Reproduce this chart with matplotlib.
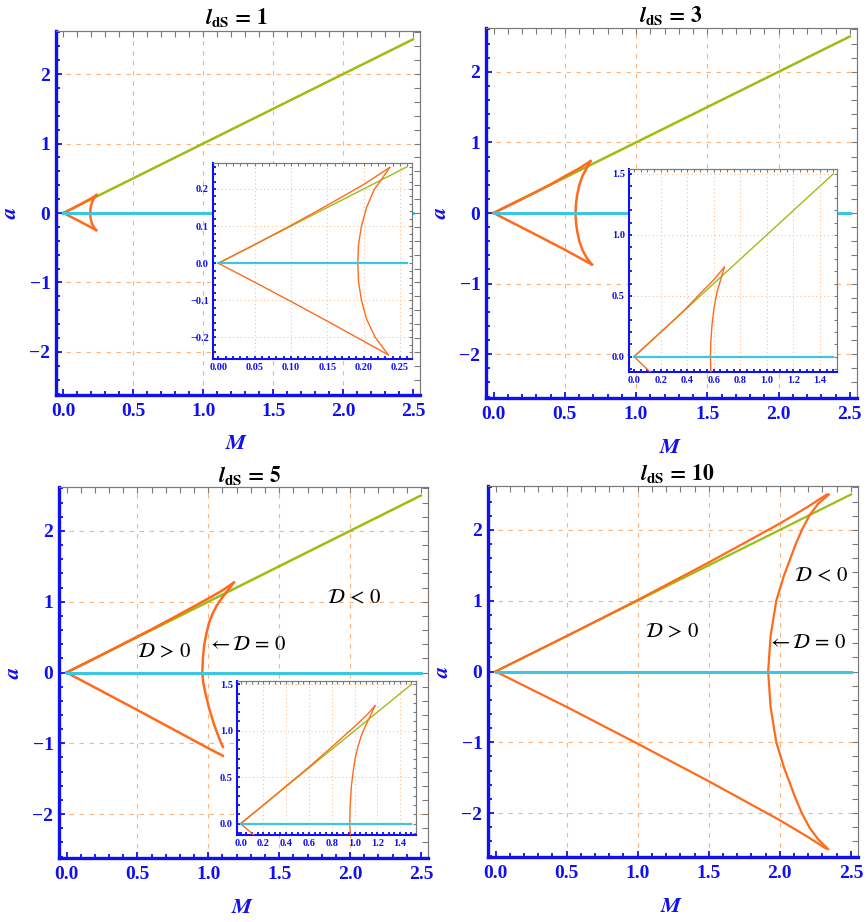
import matplotlib
matplotlib.use('Agg')
import matplotlib.pyplot as plt

plt.rcParams['mathtext.fontset'] = 'stix'
plt.rcParams['font.family'] = ['Liberation Serif', 'DejaVu Serif']

# ---------------- data ----------------
titles = ['1', '3', '5', '10']

# boundary a = M (green) and a = 0 (cyan) in the main panels
diag_M = [0.0, 2.5]
diag_a = [0.0, 2.5]
zero_M = [0.0, 2.5]
zero_a = [0.0, 0.0]

# insets: extent of the green / cyan lines
inset1_M = [0.0, 0.26]
inset23_M = [0.0, 1.5]

# D = 0 curve, l_dS = 1
l1_lower_M = [0.0, 0.05, 0.10, 0.15, 0.20, 0.234]
l1_lower_a = [0.0, -0.051, -0.103, -0.156, -0.21, -0.247]
l1_curve_M = [0.234, 0.216, 0.204, 0.197, 0.193, 0.192, 0.193, 0.197, 0.204, 0.215, 0.224, 0.236]
l1_curve_a = [-0.247, -0.20, -0.15, -0.10, -0.05, 0.0, 0.05, 0.10, 0.15, 0.20, 0.224, 0.258]
l1_upper_M = [0.236, 0.20, 0.15, 0.10, 0.05, 0.0]
l1_upper_a = [0.258, 0.212, 0.156, 0.102, 0.05, 0.0]

# l_dS = 3
l3_lower_M = [0.0, 0.10, 0.30, 0.50, 0.69]
l3_lower_a = [0.0, -0.104, -0.31, -0.52, -0.73]
l3_curve_M = [0.69, 0.655, 0.625, 0.602, 0.586, 0.578, 0.575, 0.578, 0.586, 0.602, 0.625, 0.66, 0.68]
l3_curve_a = [-0.73, -0.64, -0.53, -0.40, -0.25, -0.12, 0.0, 0.12, 0.25, 0.40, 0.53, 0.66, 0.735]
l3_upper_M = [0.68, 0.60, 0.50, 0.40, 0.30, 0.20, 0.10, 0.0]
l3_upper_a = [0.735, 0.63, 0.52, 0.405, 0.30, 0.20, 0.10, 0.0]

# l_dS = 5
l5_lower_M = [0.0, 0.50, 1.00, 1.103]
l5_lower_a = [0.0, -0.53, -1.07, -1.176]
l5_curve_M = [1.103, 1.075, 1.04, 1.005, 0.981, 0.965, 0.958, 0.962, 0.972, 0.987, 1.005, 1.028, 1.058, 1.095, 1.135, 1.18]
l5_curve_a = [-1.05, -0.92, -0.73, -0.50, -0.30, -0.15, 0.0, 0.20, 0.40, 0.55, 0.70, 0.82, 0.94, 1.05, 1.15, 1.27]
l5_upper_M = [1.18, 1.10, 1.00, 0.80, 0.60, 0.40, 0.20, 0.0]
l5_upper_a = [1.27, 1.16, 1.045, 0.825, 0.61, 0.405, 0.20, 0.0]

# l_dS = 10
l10_lower_M = [0.0, 0.50, 1.00, 1.50, 2.00, 2.20, 2.325]
l10_lower_a = [0.0, -0.50, -1.02, -1.55, -2.10, -2.34, -2.50]
l10_curve_M = [2.34, 2.27, 2.21, 2.155, 2.11, 2.03, 1.975, 1.935, 1.918,
               1.935, 1.975, 2.03, 2.11, 2.155, 2.21, 2.27, 2.345]
l10_curve_a = [-2.51, -2.37, -2.21, -2.00, -1.79, -1.36, -1.00, -0.50, 0.0,
               0.50, 1.00, 1.36, 1.79, 2.00, 2.21, 2.37, 2.50]
l10_upper_M = [2.33, 2.20, 2.00, 1.50, 1.00, 0.50, 0.0]
l10_upper_a = [2.50, 2.33, 2.09, 1.54, 1.01, 0.50, 0.0]

# annotations (panel index, M, a, text)
notes = [
    (2, 0.685, 0.28, r'$\mathcal{D}\,>\,0$'),
    (2, 1.27, 0.38, r'$\leftarrow\mathcal{D}\,=\,0$'),
    (2, 2.03, 1.04, r'$\mathcal{D}\,<\,0$'),
    (3, 1.24, 0.54, r'$\mathcal{D}\,>\,0$'),
    (3, 2.19, 0.40, r'$\leftarrow\mathcal{D}\,=\,0$'),
    (3, 2.29, 1.34, r'$\mathcal{D}\,<\,0$'),
]

# ticks
main_xticks = [0.0, 0.5, 1.0, 1.5, 2.0, 2.5]
main_xticklabels = ['0.0', '0.5', '1.0', '1.5', '2.0', '2.5']
main_yticks = [-2, -1, 0, 1, 2]
main_yticklabels = ['\u22122', '\u22121', '0', '1', '2']
main_xgrid = [0.5, 1.0, 1.5, 2.0]
main_ygrid = [-2, -1, 1, 2]

in1_xticks = [0.0, 0.05, 0.10, 0.15, 0.20, 0.25]
in1_xticklabels = ['0.00', '0.05', '0.10', '0.15', '0.20', '0.25']
in1_yticks = [-0.2, -0.1, 0.0, 0.1, 0.2]
in1_yticklabels = ['\u22120.2', '\u22120.1', '0.0', '0.1', '0.2']

in23_xticks = [0.0, 0.2, 0.4, 0.6, 0.8, 1.0, 1.2, 1.4]
in23_xticklabels = ['0.0', '0.2', '0.4', '0.6', '0.8', '1.0', '1.2', '1.4']
in23_yticks = [0.0, 0.5, 1.0, 1.5]
in23_yticklabels = ['0.0', '0.5', '1.0', '1.5']

# ---------------- style ----------------
GREEN = '#9DBD14'
ORANGE = '#FF6A1C'
CYAN = '#3CC6E2'
BLUE = '#1010F0'
GRAY = '#7A7A7A'
GRIDC = '#FDB47A'

def frange(a, b, step):
    out = []
    n = int(round((b - a) / step))
    for i in range(n + 1):
        out.append(round(a + i * step, 6))
    return out


def style(ax, xt, xtl, yt, ytl, xminor, yminor, fs, lw_spine, tick_len, pad):
    ax.set_xticks(xt)
    ax.set_xticklabels(xtl)
    ax.set_yticks(yt)
    ax.set_yticklabels(ytl)
    ax.set_xticks(xminor, minor=True)
    ax.set_yticks(yminor, minor=True)
    ax.tick_params(which='both', direction='in', color=BLUE, labelcolor=BLUE,
                   width=1.3, length=tick_len, pad=pad)
    ax.tick_params(which='minor', length=tick_len * 0.75)
    for lab in ax.get_xticklabels() + ax.get_yticklabels():
        lab.set_fontweight('bold')
        lab.set_fontsize(fs)
    for s in ['left', 'bottom']:
        ax.spines[s].set_color(BLUE)
        ax.spines[s].set_linewidth(lw_spine)
    for s in ['top', 'right']:
        ax.spines[s].set_color(GRAY)
        ax.spines[s].set_linewidth(0.8)
    secx = ax.secondary_xaxis('top')
    secx.set_xticks(xt)
    secx.set_xticks(xminor, minor=True)
    secx.tick_params(which='both', direction='in', color=GRAY, labeltop=False,
                     width=0.8, length=tick_len)
    secx.spines['top'].set_color(GRAY)
    secx.spines['top'].set_linewidth(0.8)
    secy = ax.secondary_yaxis('right')
    secy.set_yticks(yt)
    secy.set_yticks(yminor, minor=True)
    secy.tick_params(which='both', direction='in', color=GRAY, labelright=False,
                     width=0.8, length=tick_len)
    secy.spines['right'].set_color(GRAY)
    secy.spines['right'].set_linewidth(0.8)


fig = plt.figure(figsize=(8.68, 9.22), dpi=100)
W, H = 868.0, 922.0

def px_axes(left, top, right, bottom):
    return [left / W, 1 - bottom / H, (right - left) / W, (bottom - top) / H]

main_boxes = [(56, 31, 420, 395), (486, 28, 857, 398), (59, 487, 428, 858), (488, 486, 858, 857)]
title_pos = [(0.497, 1.036), (0.498, 1.035), (0.518, 1.03), (0.512, 1.033)]
curves = [
    (l1_lower_M, l1_lower_a, l1_curve_M, l1_curve_a, l1_upper_M, l1_upper_a),
    (l3_lower_M, l3_lower_a, l3_curve_M, l3_curve_a, l3_upper_M, l3_upper_a),
    (l5_lower_M, l5_lower_a, l5_curve_M, l5_curve_a, l5_upper_M, l5_upper_a),
    (l10_lower_M, l10_lower_a, l10_curve_M, l10_curve_a, l10_upper_M, l10_upper_a),
]

main_axes = []
for i in range(4):
    ax = fig.add_axes(px_axes(*main_boxes[i]))
    main_axes.append(ax)
    ax.set_xlim(-0.053, 2.55)
    ax.set_ylim(-2.62, 2.62)
    for g in main_xgrid:
        ax.axvline(g, color=GRIDC, lw=0.8, ls=(0, (4, 5)), zorder=0)
    for g in main_ygrid:
        ax.axhline(g, color=GRIDC, lw=0.8, ls=(0, (4, 5)), zorder=0)
    lw = 1.8 if i < 3 else 1.6
    ax.plot(diag_M, diag_a, color=GREEN, lw=lw, zorder=2)
    lM, la, cM, ca, uM, ua = curves[i]
    for xs, ys in [(lM, la), (cM, ca), (uM, ua)]:
        ax.plot(xs, ys, color=ORANGE, lw=lw, zorder=3, solid_joinstyle='round')
    ax.plot(zero_M, zero_a, color=CYAN, lw=2.2, zorder=4)
    style(ax, main_xticks, main_xticklabels, main_yticks, main_yticklabels,
          frange(0.0, 2.5, 0.1), frange(-2.6, 2.6, 0.2), 14, 2.4, 4, 6)
    ax.tick_params(axis='y', pad=4)
    ax.set_xlabel(r'$\mathbfit{M}$', color=BLUE, fontsize=16, va='center')
    ax.xaxis.set_label_coords(0.497, -0.137)
    ax.set_ylabel(r'$\mathbfit{a}$', color=BLUE, fontsize=16, va='center')
    ax.yaxis.set_label_coords(-0.121, 0.5)
    tx, ty = title_pos[i]
    ax.text(tx, ty, r'$\mathbfit{l}_{\mathbf{dS}}\,\mathbf{=\,' + titles[i] + r'}$',
            transform=ax.transAxes, ha='center', va='center', fontsize=15.5, color='black')

for (pi, x, y, s) in notes:
    main_axes[pi].text(x, y, s, fontsize=15, ha='center', va='center', color='black', zorder=6)

# ---------------- insets ----------------
inset_boxes = [(213, 163, 412, 359), (629, 169, 837, 372), (237, 681, 416, 835)]
inset_lims = [((-0.0073, 0.2666), (-0.258, 0.27)),
              ((-0.038, 1.528), (-0.126, 1.54)),
              ((-0.032, 1.54), (-0.122, 1.536))]
inset_M = [inset1_M, inset23_M, inset23_M]

for j in range(3):
    ia = fig.add_axes(px_axes(*inset_boxes[j]))
    ia.set_zorder(10)
    ia.set_facecolor('white')
    (x0, x1), (y0, y1) = inset_lims[j]
    ia.set_xlim(x0, x1)
    ia.set_ylim(y0, y1)
    if j == 0:
        xt, xtl, yt, ytl = in1_xticks, in1_xticklabels, in1_yticks, in1_yticklabels
        xmin_t, ymin_t = frange(0.0, 0.26, 0.01), frange(-0.24, 0.26, 0.02)
    else:
        xt, xtl, yt, ytl = in23_xticks, in23_xticklabels, in23_yticks, in23_yticklabels
        xmin_t, ymin_t = frange(0.0, 1.5, 0.05), frange(-0.1, 1.5, 0.1)
    for g in xt[1:]:
        ia.axvline(g, color=GRIDC, lw=0.7, ls=(0, (1, 3)), zorder=0)
    for g in yt:
        if g != 0:
            ia.axhline(g, color=GRIDC, lw=0.7, ls=(0, (1, 3)), zorder=0)
    ia.plot(inset_M[j], inset_M[j], color=GREEN, lw=1.0, zorder=2)
    lM, la, cM, ca, uM, ua = curves[j]
    for xs, ys in [(lM, la), (cM, ca), (uM, ua)]:
        ia.plot(xs, ys, color=ORANGE, lw=1.0, zorder=3)
    ia.plot(inset_M[j], [0.0, 0.0], color=CYAN, lw=1.6, zorder=4)
    style(ia, xt, xtl, yt, ytl, xmin_t, ymin_t, 7.5, 1.5, 2.5, 3)

fig.savefig('out.png', dpi=100)
